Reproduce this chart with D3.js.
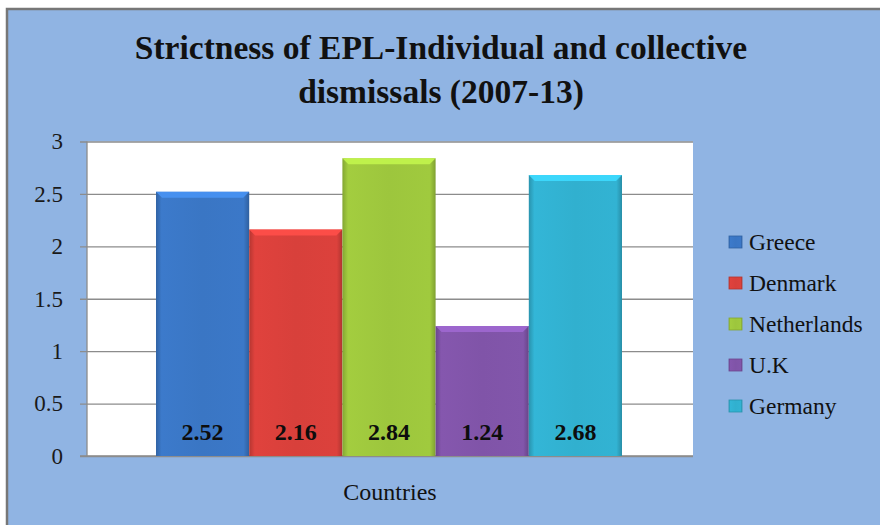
<!DOCTYPE html>
<html>
<head>
<meta charset="utf-8">
<script src="https://cdn.jsdelivr.net/npm/d3@7"></script>
<style>
  body { margin: 0; background: #fff; }
  svg { display: block; }
  svg text { font-family: "Liberation Serif", "Times New Roman", serif; }
</style>
</head>
<body>
<svg id="chart" width="880" height="525"></svg>
<script>
var countries = ["Greece", "Denmark", "Netherlands", "U.K", "Germany"];
var values = [2.52, 2.16, 2.84, 1.24, 2.68];
var colors = ["#3a76c4", "#d8403b", "#9dc63d", "#8054a8", "#31b0cf"];
var yTicks = [0, 0.5, 1, 1.5, 2, 2.5, 3];
var titleLines = ["Strictness of EPL-Individual and collective", "dismissals (2007-13)"];
var xTitle = "Countries";

var serif = "'Liberation Serif', 'Times New Roman', serif";
var svg = d3.select("#chart");
var plot = { left: 87, right: 693, top: 141.5, bottom: 456 };

// chart background and frame
svg.append("rect")
	.attr("x", 7).attr("y", 9)
	.attr("width", 880).attr("height", 530)
	.attr("fill", "#90b4e3")
	.attr("stroke", "#777").attr("stroke-width", 2.5);

var x0 = d3.scaleBand().domain([xTitle]).range([plot.left, plot.right]);
var xScale = d3.scaleBand().domain(countries)
	.range([plot.left + 69, plot.right - 71]).padding(0);
var yScale = d3.scaleLinear().domain([0, 3]).range([plot.bottom, plot.top]);

svg.append("rect")
	.attr("x", plot.left).attr("y", plot.top)
	.attr("width", plot.right - plot.left).attr("height", plot.bottom - plot.top)
	.attr("fill", "#ffffff");

// gridlines + ticks
var yAxis = d3.axisLeft(yScale)
	.tickValues(yTicks)
	.tickSize(-(plot.right - plot.left))
	.tickFormat(d3.format("~g"));

var gy = svg.append("g")
	.attr("transform", "translate(" + plot.left + ",0)")
	.call(yAxis)
	.attr("font-family", serif);
gy.select(".domain").remove();
gy.selectAll(".tick line")
	.attr("x1", -7)
	.attr("stroke", "#8c8c8c").attr("stroke-width", 1.3);
gy.selectAll(".tick text")
	.attr("x", -24)
	.attr("dy", "0.32em")
	.attr("fill", "#1a1a1a")
	.style("font-size", "23px");

// left axis line and bottom axis line
svg.append("line")
	.attr("x1", plot.left).attr("x2", plot.left)
	.attr("y1", plot.top).attr("y2", plot.bottom)
	.attr("stroke", "#8c8c8c").attr("stroke-width", 1.3);
svg.append("line")
	.attr("x1", plot.left - 7).attr("x2", plot.right)
	.attr("y1", plot.bottom).attr("y2", plot.bottom)
	.attr("stroke", "#8c8c8c").attr("stroke-width", 1.5);

// gradients for a bevel look
var defs = svg.append("defs");
countries.forEach(function(c, i) {
	var base = d3.color(colors[i]);
	var g = defs.append("linearGradient")
		.attr("id", "grad" + i)
		.attr("x1", "0").attr("x2", "1").attr("y1", "0").attr("y2", "0");
	g.append("stop").attr("offset", "0").attr("stop-color", base.darker(0.5));
	g.append("stop").attr("offset", "0.06").attr("stop-color", base.brighter(0.1));
	g.append("stop").attr("offset", "0.5").attr("stop-color", base);
	g.append("stop").attr("offset", "0.94").attr("stop-color", base.brighter(0.05));
	g.append("stop").attr("offset", "1").attr("stop-color", base.darker(0.6));
});

var bars = svg.append("g").selectAll("g")
	.data(countries)
	.enter().append("g");

bars.append("rect")
	.attr("x", function(d) { return xScale(d); })
	.attr("y", function(d, i) { return yScale(values[i]); })
	.attr("width", xScale.bandwidth())
	.attr("height", function(d, i) { return plot.bottom - yScale(values[i]); })
	.attr("fill", function(d, i) { return "url(#grad" + i + ")"; });

// top bevel
bars.append("path")
	.attr("d", function(d, i) {
		var x = xScale(d), w = xScale.bandwidth(), y = yScale(values[i]), b = 6;
		return "M" + x + "," + y + "L" + (x + w) + "," + y +
			"L" + (x + w - b) + "," + (y + b) + "L" + (x + b) + "," + (y + b) + "Z";
	})
	.attr("fill", function(d, i) { return d3.color(colors[i]).brighter(0.6); })
	.attr("opacity", 0.9);

bars.append("text")
	.attr("x", function(d) { return xScale(d) + xScale.bandwidth() / 2; })
	.attr("y", 440)
	.attr("text-anchor", "middle")
	.attr("font-family", serif)
	.attr("font-weight", "bold")
	.style("font-size", "24px")
	.attr("fill", "#0d0d0d")
	.text(function(d, i) { return values[i].toFixed(2); });

// title
svg.append("g").selectAll("text")
	.data(titleLines)
	.enter().append("text")
	.attr("x", 441)
	.attr("y", function(d, i) { return 59 + i * 44; })
	.attr("text-anchor", "middle")
	.attr("font-family", serif)
	.attr("font-weight", "bold")
	.style("font-size", "33.5px")
	.attr("fill", "#111")
	.text(function(d) { return d; });

// x axis title
svg.append("text")
	.attr("x", x0(xTitle) + x0.bandwidth() / 2)
	.attr("y", 500)
	.attr("text-anchor", "middle")
	.attr("font-family", serif)
	.style("font-size", "24px")
	.attr("fill", "#111")
	.text(xTitle);

// legend
var legend = svg.append("g").selectAll("g")
	.data(countries)
	.enter().append("g")
	.attr("transform", function(d, i) { return "translate(729," + (242 + i * 41) + ")"; });

legend.append("rect")
	.attr("x", 0).attr("y", -6)
	.attr("width", 13).attr("height", 12)
	.attr("fill", function(d, i) { return "url(#grad" + i + ")"; })
	.attr("stroke", function(d, i) { return d3.color(colors[i]).darker(0.5); })
	.attr("stroke-width", 0.8);

legend.append("text")
	.attr("x", 20)
	.attr("y", 0)
	.attr("dy", "0.35em")
	.attr("font-family", serif)
	.style("font-size", "23.5px")
	.attr("fill", "#111")
	.text(function(d) { return d; });
</script>
</body>
</html>
